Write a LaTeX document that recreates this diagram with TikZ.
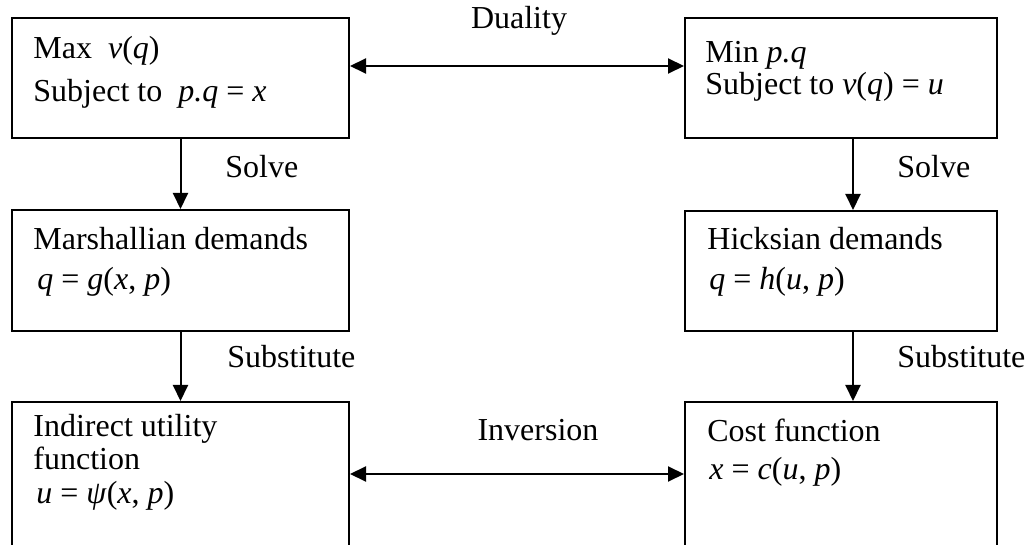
\documentclass[tikz,border=0pt]{standalone}
\usepackage{fontspec}
\setmainfont{Liberation Serif}
\usetikzlibrary{arrows.meta,calc}
\newcommand{\iv}[1]{\textit{#1}}

\begin{document}
\begin{tikzpicture}[x=0.5pt,y=-0.5pt,
  box/.style={draw,line width=1pt,inner sep=0pt,minimum width=168.5pt},
  rbox/.style={box,minimum width=156pt},
  txt/.style={anchor=base west,inner sep=0pt,font=\fontsize{16}{19}\selectfont},
  lbl/.style={txt,anchor=base},
  arr/.style={line width=1pt,-{Triangle[length=8pt,width=7.5pt]}},
  dblarr/.style={line width=1pt,{Triangle[length=8pt,width=7.5pt]}-{Triangle[length=8pt,width=7.5pt]}}]

\clip (0,0) rectangle (1029,545);

% left column
\node[box,minimum height=60pt] (primal) at (180.5,78) {};
\node[box,minimum height=60.5pt] (marsh) at (180.5,270.5) {};
\node[box,minimum height=84pt] (indir) at (180.5,486) {};

% right column
\node[rbox,minimum height=60pt] (dual) at (841,78) {};
\node[rbox,minimum height=60pt] (hicks) at (841,271) {};
\node[rbox,minimum height=84pt] (cost) at (841,486) {};

% box texts
\node[txt] (primalA) at (33,59) {Max\ \ \iv{v}(\iv{q})};
\node[txt] (primalB) at (33,102) {Subject to\ \ \iv{p.q} = \iv{x}};
\node[txt] (dualA) at (705,63) {Min \iv{p.q}};
\node[txt] (dualB) at (705,95) {Subject to\ \iv{v}(\iv{q}) = \iv{u}};
\node[txt] (marshA) at (33,250) {Marshallian demands};
\node[txt] (marshB) at (37,290) {\iv{q} = \iv{g}(\iv{x}, \iv{p})};
\node[txt] (hicksA) at (707,250) {Hicksian demands};
\node[txt] (hicksB) at (709,290) {\iv{q} = \iv{h}(\iv{u}, \iv{p})};
\node[txt] (indirA) at (33,437) {Indirect utility};
\node[txt] (indirB) at (33,470) {function};
\node[txt] (indirC) at (36,503) {\iv{u} = \iv{ψ}(\iv{x}, \iv{p})};
\node[txt] (costA) at (707,442) {Cost function};
\node[txt] (costB) at (709,480) {\iv{x} = \iv{c}(\iv{u}, \iv{p})};

% arrows
\draw[dblarr] ([yshift=-24.5pt]primal.north east) -- ([yshift=-24.5pt]dual.north west);
\draw[dblarr] ([yshift=-36.5pt]indir.north east) -- ([yshift=-36.5pt]cost.north west);
\draw[arr] (primal) -- (marsh);
\draw[arr] (marsh) -- (indir);
\draw[arr] ([xshift=6pt]dual.south) -- ([xshift=6pt]hicks.north);
\draw[arr] ([xshift=6pt]hicks.south) -- ([xshift=6pt]cost.north);

% arrow labels
\node[lbl] (duality) at (519,29) {Duality};
\node[lbl] (inversion) at (538,441) {Inversion};
\node[txt] (solveL) at (225,178) {Solve};
\node[txt] (solveR) at (897,178) {Solve};
\node[txt] (substL) at (227,368) {Substitute};
\node[txt] (substR) at (897,368) {Substitute};

\end{tikzpicture}
\end{document}
